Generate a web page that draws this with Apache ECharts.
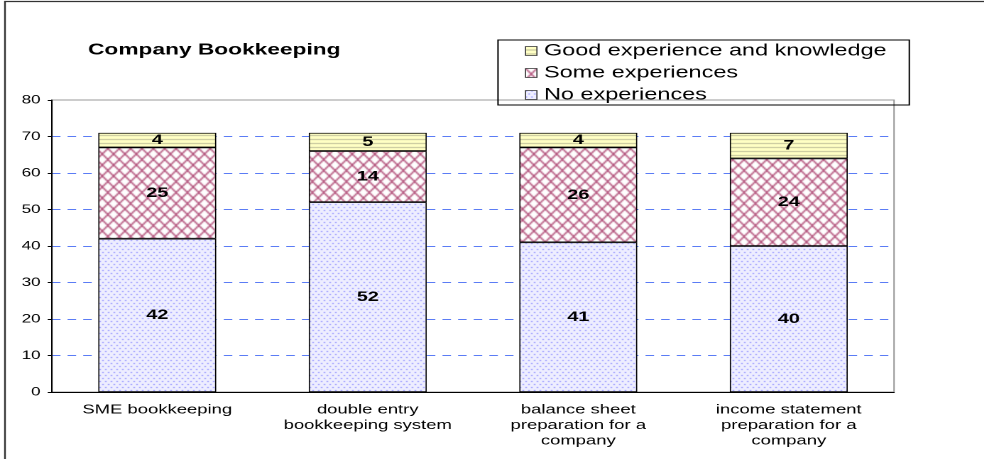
<!DOCTYPE html>
<html>
<head>
<meta charset="utf-8">
<script src="https://cdn.jsdelivr.net/npm/echarts@6/dist/echarts.min.js"></script>
<style>
  html, body { margin: 0; padding: 0; background: #fff; overflow: hidden; }
  /* the original picture is stretched sideways, so draw narrow and widen */
  main { width: 693px; height: 459px; transform: scaleX(1.42); transform-origin: 0 0; }
</style>
</head>
<body>
<main></main>
<script>
const categories = [
  'SME bookkeeping',
  'double entry\nbookkeeping system',
  'balance sheet\npreparation for a\ncompany',
  'income statement\npreparation for a\ncompany',
]
const noExperiences = [42, 52, 41, 40]
const someExperiences = [25, 14, 26, 24]
const goodExperience = [4, 5, 4, 7]
const yMin = 0
const yMax = 80
const yStep = 10

;(function () {
  const font = "'Liberation Sans', Arial, sans-serif"

  function pattern(w, h, draw) {
    const c = document.createElement('canvas')
    c.width = w
    c.height = h
    draw(c.getContext('2d'), w, h)
    return { image: c, repeat: 'repeat' }
  }

  const dots = pattern(4, 6, (ctx, w, h) => {
    ctx.fillStyle = '#eeeeff'
    ctx.fillRect(0, 0, w, h)
    ctx.fillStyle = '#7c7cff'
    ctx.fillRect(0, 0, 1, 1)
    ctx.fillRect(2, 3, 1, 1)
  })

  const hatch = pattern(8, 11, (ctx, w, h) => {
    ctx.fillStyle = '#fff'
    ctx.fillRect(0, 0, w, h)
    ctx.strokeStyle = '#b5577f'
    ctx.lineWidth = 1.3
    ctx.beginPath()
    ctx.moveTo(0, 0)
    ctx.lineTo(w, h)
    ctx.moveTo(w, 0)
    ctx.lineTo(0, h)
    ctx.stroke()
  })

  const stripes = pattern(1, 4, (ctx, w, h) => {
    ctx.fillStyle = '#ffffc4'
    ctx.fillRect(0, 0, w, h)
    ctx.fillStyle = '#bdbd98'
    ctx.fillRect(0, 3, 1, 1)
  })

  const label = { show: true, position: 'inside', color: '#000', fontWeight: 'bold', fontSize: 14, fontFamily: font }
  const border = { borderColor: '#000', borderWidth: 0.8 }

  function bar(name, data, color) {
    return {
      name, type: 'bar', stack: 'all', data, barWidth: '56%',
      itemStyle: Object.assign({ color }, border),
      label,
    }
  }

  const chart = echarts.init(document.querySelector('main'), null, { renderer: 'canvas', devicePixelRatio: 2 })
  chart.setOption({
    animation: false,
    textStyle: { fontFamily: font },
    graphic: [{
      type: 'rect', silent: true, z: -1,
      shape: { x: 3.5, y: 1.5, width: 900, height: 600 },
      style: { fill: 'none', stroke: '#333', lineWidth: 1.2 },
    }],
    title: {
      text: 'Company Bookkeeping', left: 62, top: 42, padding: 0,
      textStyle: { fontSize: 16, fontWeight: 'bold', color: '#000', fontFamily: font },
    },
    legend: {
      left: 350.7, top: 40, orient: 'vertical',
      data: ['Good experience and knowledge', 'Some experiences', 'No experiences'],
      borderColor: '#000', borderWidth: 1, padding: [1, 16, 0, 19],
      itemGap: 2, itemWidth: 8, itemHeight: 9, icon: 'rect',
      itemStyle: { borderColor: '#333', borderWidth: 0.8 },
      textStyle: { fontSize: 16.5, lineHeight: 20, color: '#000', fontFamily: font },
    },
    grid: { left: 36.6, right: 63.4, top: 100, bottom: 67, show: true, borderColor: '#999', borderWidth: 1 },
    xAxis: {
      type: 'category', data: categories,
      axisLine: { lineStyle: { color: '#000', width: 1 } },
      axisTick: { length: 4, lineStyle: { color: '#000' } },
      axisLabel: { interval: 0, fontSize: 13, lineHeight: 15.5, margin: 10, color: '#000', fontFamily: font },
    },
    yAxis: {
      type: 'value', min: yMin, max: yMax, interval: yStep,
      axisLine: { show: true, lineStyle: { color: '#000', width: 1 } },
      axisTick: { show: true, length: 3, lineStyle: { color: '#000' } },
      axisLabel: { fontSize: 12, margin: 8, color: '#000', fontFamily: font },
      splitLine: {
        show: true, showMaxLine: false, showMinLine: false,
        lineStyle: { color: '#5b7cf5', type: [6, 5], width: 1 },
      },
    },
    series: [
      bar('No experiences', noExperiences, dots),
      bar('Some experiences', someExperiences, hatch),
      bar('Good experience and knowledge', goodExperience, stripes),
    ],
  })
})()
</script>
</body>
</html>
